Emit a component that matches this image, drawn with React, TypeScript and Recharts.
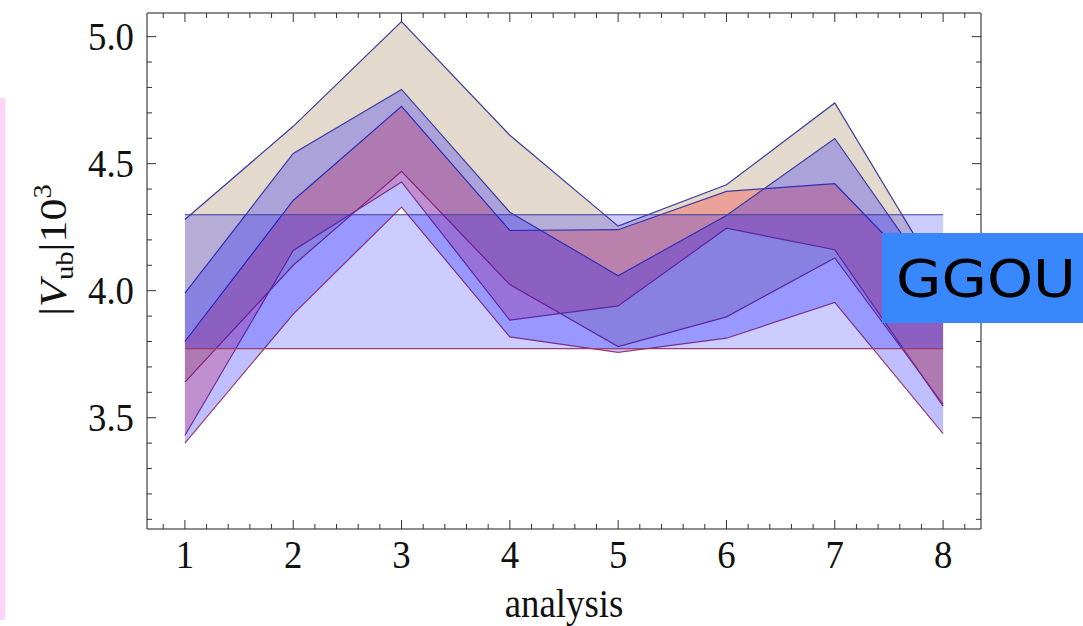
import React from 'react';
import { ComposedChart, Area, XAxis, YAxis } from 'recharts';

const analyses = [1, 2, 3, 4, 5, 6, 7, 8];

// band A (beige)
const bandAHigh = [4.28, 4.647, 5.059, 4.612, 4.254, 4.417, 4.739, 4.03];
const bandALow = [3.64, 4.1, 4.47, 4.024, 3.78, 3.897, 4.129, 3.553];
// band C (red)
const bandCHigh = [3.8, 4.355, 4.726, 4.237, 4.24, 4.391, 4.421, 3.98];
const bandCLow = [3.43, 4.158, 4.428, 3.884, 3.94, 4.246, 4.161, 3.546];
// band B (blue)
const bandBHigh = [3.99, 4.54, 4.792, 4.309, 4.059, 4.296, 4.599, 3.99];
const bandBLow = [3.4, 3.908, 4.329, 3.818, 3.757, 3.813, 3.954, 3.437];
// horizontal band
const avgHigh = [4.299, 4.299, 4.299, 4.299, 4.299, 4.299, 4.299, 4.299];
const avgLow = [3.772, 3.772, 3.772, 3.772, 3.772, 3.772, 3.772, 3.772];

const xMajorTicks = [1, 2, 3, 4, 5, 6, 7, 8];
const xAllTicks = [
  0.8, 1, 1.2, 1.4, 1.6, 1.8, 2, 2.2, 2.4, 2.6, 2.8, 3, 3.2, 3.4, 3.6, 3.8, 4,
  4.2, 4.4, 4.6, 4.8, 5, 5.2, 5.4, 5.6, 5.8, 6, 6.2, 6.4, 6.6, 6.8, 7, 7.2, 7.4,
  7.6, 7.8, 8, 8.2,
];
const yMajorTicks = [3.5, 4.0, 4.5, 5.0];
const yTickLabels = ['3.5', '4.0', '4.5', '5.0'];
const yAllTicks = [
  3.1, 3.2, 3.3, 3.4, 3.5, 3.6, 3.7, 3.8, 3.9, 4.0, 4.1, 4.2, 4.3, 4.4, 4.5,
  4.6, 4.7, 4.8, 4.9, 5.0,
];

const rows = analyses.map((x, i) => ({
  x,
  aHi: bandAHigh[i],
  aLo: bandALow[i],
  bHi: bandBHigh[i],
  bLo: bandBLow[i],
  cHi: bandCHigh[i],
  cLo: bandCLow[i],
  hHi: avgHigh[i],
  hLo: avgLow[i],
}));

const SERIF = '"Liberation Serif", "Times New Roman", serif';
const TICK = '#333';
const FRAME = '#666';
const UP = '#3d3d9e';
const LO = '#993d6b';
const MAJ = 9;
const MIN = 5;
const FS = 40;
const SX = 0.92;

const majorIdx = (v: number, majors: number[]) =>
  majors.findIndex((m) => Math.abs(m - v) < 1e-6);

const BottomTick = (p: any) => {
  const { x, y, payload } = p;
  const i = majorIdx(payload.value, xMajorTicks);
  return (
    <g>
      <line x1={x} x2={x} y1={y} y2={y - (i >= 0 ? MAJ : MIN)} stroke={TICK} strokeWidth={1} />
      {i >= 0 && (
        <text
          transform={`translate(${x},${y + 39}) scale(${SX},1)`}
          textAnchor="middle"
          fontFamily={SERIF}
          fontSize={FS}
          fill="#111"
        >
          {String(xMajorTicks[i])}
        </text>
      )}
    </g>
  );
};

const TopTick = (p: any) => {
  const { x, y, payload } = p;
  const i = majorIdx(payload.value, xMajorTicks);
  return <line x1={x} x2={x} y1={y} y2={y + (i >= 0 ? MAJ : MIN)} stroke={TICK} strokeWidth={1} />;
};

const LeftTick = (p: any) => {
  const { x, y, payload } = p;
  const i = majorIdx(payload.value, yMajorTicks);
  return (
    <g>
      <line x1={x} x2={x + (i >= 0 ? MAJ : MIN)} y1={y} y2={y} stroke={TICK} strokeWidth={1} />
      {i >= 0 && (
        <text
          transform={`translate(${x - 13},${y + 13}) scale(${SX},1)`}
          textAnchor="end"
          fontFamily={SERIF}
          fontSize={FS}
          fill="#111"
        >
          {yTickLabels[i]}
        </text>
      )}
    </g>
  );
};

const RightTick = (p: any) => {
  const { x, y, payload } = p;
  const i = majorIdx(payload.value, yMajorTicks);
  return <line x1={x} x2={x - (i >= 0 ? MAJ : MIN)} y1={y} y2={y} stroke={TICK} strokeWidth={1} />;
};

const band = (
  key: string,
  lo: string,
  hi: string,
  fill: string,
  opacity: number
) => [
  <Area
    key={key + 'f'}
    type="linear"
    dataKey={(d: any) => [d[lo], d[hi]]}
    fill={fill}
    fillOpacity={opacity}
    stroke="none"
    isAnimationActive={false}
    dot={false}
    activeDot={false}
  />,
  <Area
    key={key + 'u'}
    type="linear"
    dataKey={hi}
    fill="none"
    stroke={UP}
    strokeWidth={1.2}
    isAnimationActive={false}
    dot={false}
    activeDot={false}
  />,
  <Area
    key={key + 'l'}
    type="linear"
    dataKey={lo}
    fill="none"
    stroke={LO}
    strokeWidth={1.2}
    isAnimationActive={false}
    dot={false}
    activeDot={false}
  />,
];

export default function App() {
  return (
    <div style={{ position: 'absolute', left: 0, top: 0, width: 1083, height: 626, background: '#fff' }}>
      <ComposedChart
        width={1083}
        height={626}
        data={rows}
        margin={{ top: 8, right: 97, bottom: 92, left: 142 }}
      >
        <XAxis
          dataKey="x"
          type="number"
          domain={[0.65, 8.35]}
          allowDataOverflow
          ticks={xAllTicks}
          interval={0}
          tickSize={0}
          tickMargin={0}
          tickLine={false}
          height={5}
          axisLine={{ stroke: FRAME, strokeWidth: 1.5 }}
          tick={BottomTick}
        />
        <XAxis
          xAxisId="t"
          orientation="top"
          dataKey="x"
          type="number"
          domain={[0.65, 8.35]}
          allowDataOverflow
          ticks={xAllTicks}
          interval={0}
          tickSize={0}
          tickMargin={0}
          tickLine={false}
          height={5}
          axisLine={{ stroke: FRAME, strokeWidth: 1.5 }}
          tick={TopTick}
        />
        <YAxis
          type="number"
          domain={[3.062, 5.093]}
          allowDataOverflow
          ticks={yAllTicks}
          interval={0}
          tickSize={0}
          tickMargin={0}
          tickLine={false}
          width={5}
          axisLine={{ stroke: FRAME, strokeWidth: 1.5 }}
          tick={LeftTick}
        />
        <YAxis
          yAxisId="r"
          orientation="right"
          type="number"
          domain={[3.062, 5.093]}
          allowDataOverflow
          ticks={yAllTicks}
          interval={0}
          tickSize={0}
          tickMargin={0}
          tickLine={false}
          width={5}
          axisLine={{ stroke: FRAME, strokeWidth: 1.5 }}
          tick={RightTick}
        />
        {band('a', 'aLo', 'aHi', '#e3d9cc', 1)}
        {band('c', 'cLo', 'cHi', '#ff0000', 0.25)}
        {band('b', 'bLo', 'bHi', '#0000ff', 0.25)}
        {band('h', 'hLo', 'hHi', '#0000ff', 0.2)}
      </ComposedChart>
      <svg
        width={1083}
        height={626}
        style={{ position: 'absolute', left: 0, top: 0, pointerEvents: 'none' }}
      >
        <text
          transform="translate(66,250) rotate(-90) scale(1.1,0.95)"
          textAnchor="middle"
          fontFamily={SERIF}
          fontSize={40}
          fill="#111"
        >
          |<tspan fontStyle="italic">V</tspan>
          <tspan fontSize={26} dy={7}>ub</tspan>
          <tspan dy={-7}>|10</tspan>
          <tspan fontSize={26} dy={-16}>3</tspan>
        </text>
        <text
          transform={`translate(564,617) scale(${SX},1)`}
          textAnchor="middle"
          fontFamily={SERIF}
          fontSize={FS}
          fill="#111"
        >
          analysis
        </text>
      </svg>
      <div
        style={{ position: 'absolute', left: 0, top: 98, width: 5, height: 522, background: '#fdd3fb' }}
      />
      <div
        style={{ position: 'absolute', left: 882, top: 233, width: 201, height: 90, background: '#3987fd' }}
      >
        <svg width={201} height={90}>
          <text
            x={14}
            y={64}
            fontFamily='"DejaVu Sans", sans-serif'
            fontSize={52}
            fill="#000"
            textLength={180}
            lengthAdjust="spacingAndGlyphs"
          >
            GGOU
          </text>
        </svg>
      </div>
    </div>
  );
}
